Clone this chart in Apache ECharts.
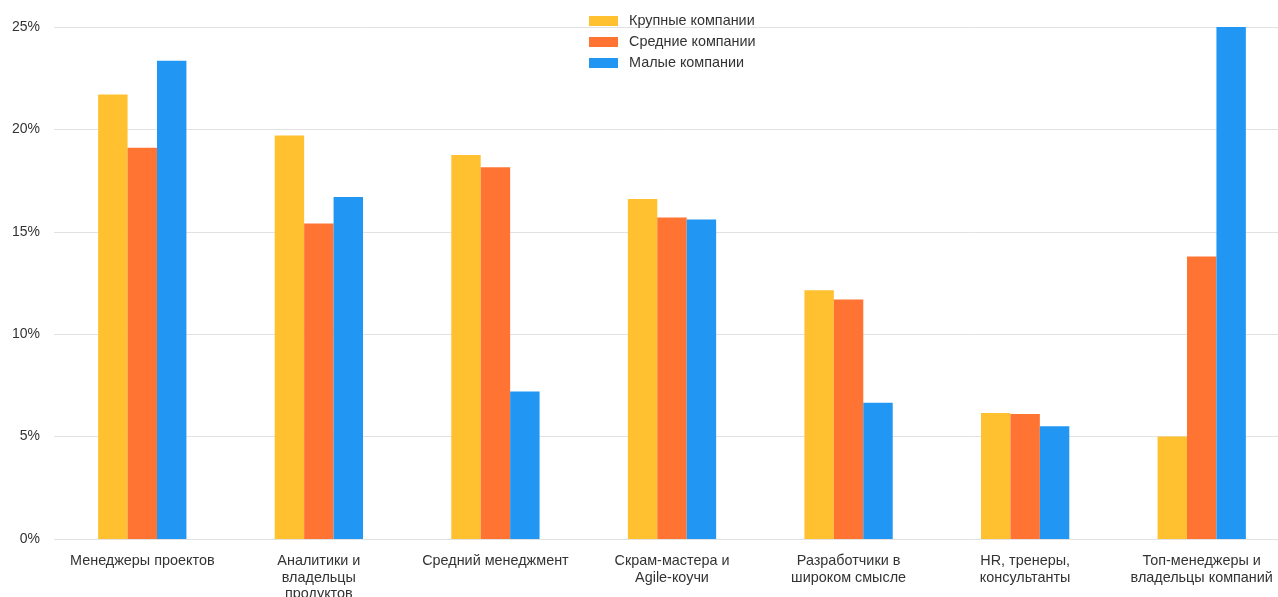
<!DOCTYPE html>
<html>
<head>
<meta charset="utf-8">
<script src="https://cdn.jsdelivr.net/npm/echarts@6/dist/echarts.min.js"></script>
<style>
  html, body { margin: 0; padding: 0; background: #fff; }
  #chart { width: 1278px; height: 597px; }
</style>
</head>
<body>
<div id="chart"></div>
<script>
// Роли участников опроса по размеру компании, % ответов
const categories = [
  'Менеджеры проектов',
  'Аналитики и\nвладельцы\nпродуктов',
  'Средний менеджмент',
  'Скрам-мастера и\nAgile-коучи',
  'Разработчики в\nшироком смысле',
  'HR, тренеры,\nконсультанты',
  'Топ-менеджеры и\nвладельцы компаний'
];
const seriesNames = ['Крупные компании', 'Средние компании', 'Малые компании'];
const largeCompanies = [21.7, 19.7, 18.75, 16.6, 12.15, 6.15, 5.0];
const mediumCompanies = [19.1, 15.4, 18.15, 15.7, 11.7, 6.1, 13.8];
const smallCompanies = [23.35, 16.7, 7.2, 15.6, 6.65, 5.5, 25.0];
const yTicks = [0, 5, 10, 15, 20, 25];

const colors = ['#FFC12F', '#FF7433', '#2196F3'];
const font = '"Liberation Sans", Arial, sans-serif';

const chart = echarts.init(document.getElementById('chart'));
chart.setOption({
  animation: false,
  color: colors,
  textStyle: { fontFamily: font },
  grid: { left: 54, right: -12, top: 27, bottom: 58, containLabel: false, outerBoundsMode: 'none' },
  legend: {
    orient: 'vertical',
    left: 584,
    top: 9,
    itemWidth: 29,
    itemHeight: 10,
    itemGap: 7,
    icon: 'rect',
    textStyle: { fontSize: 14.4, color: '#333', fontFamily: font, lineHeight: 14, padding: [0, 0, 0, 6] },
    data: seriesNames
  },
  xAxis: {
    type: 'category',
    data: categories,
    axisLine: { show: false },
    axisTick: { show: false },
    axisLabel: {
      interval: 0,
      fontSize: 14.4,
      color: '#333',
      lineHeight: 16.5,
      margin: 14,
      fontFamily: font
    }
  },
  yAxis: {
    type: 'value',
    min: yTicks[0],
    max: yTicks[yTicks.length - 1],
    interval: 5,
    axisLine: { show: false },
    axisTick: { show: false },
    splitLine: { lineStyle: { color: '#e2e2e2', width: 1 } },
    axisLabel: {
      fontSize: 14,
      color: '#333',
      margin: 14,
      padding: [3, 0, 0, 0],
      fontFamily: font,
      formatter: v => v + '%'
    }
  },
  series: [
    { name: seriesNames[0], type: 'bar', data: largeCompanies, barGap: '0%', barCategoryGap: '50%' },
    { name: seriesNames[1], type: 'bar', data: mediumCompanies, barGap: '0%', barCategoryGap: '50%' },
    { name: seriesNames[2], type: 'bar', data: smallCompanies, barGap: '0%', barCategoryGap: '50%' }
  ]
});
</script>
</body>
</html>
